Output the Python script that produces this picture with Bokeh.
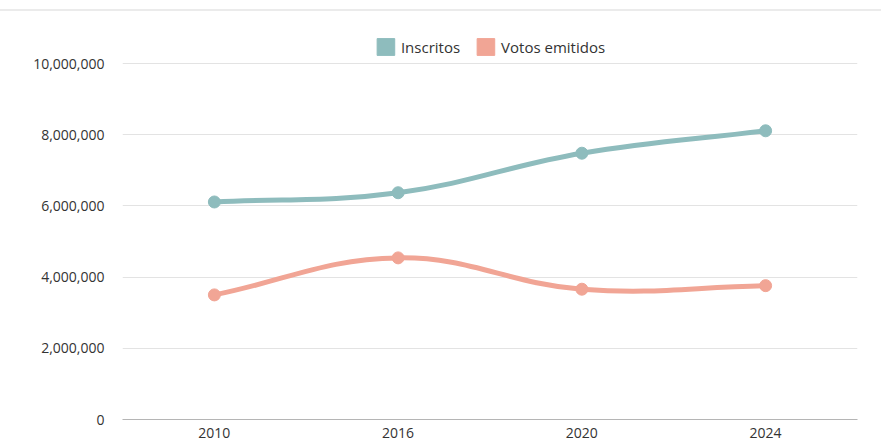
import math
from bokeh.plotting import figure
from bokeh.models import (Range1d, FixedTicker, Legend, LegendItem,
                          NumeralTickFormatter)
from bokeh.embed import file_html
from bokeh.resources import INLINE

# ---- data ----
years = ["2010", "2016", "2020", "2024"]
inscritos = [6110000, 6370000, 7480000, 8110000]
votos = [3500000, 4540000, 3660000, 3760000]
y_ticks = [0, 2000000, 4000000, 6000000, 8000000, 10000000]
series_names = ["Inscritos", "Votos emitidos"]

# ---- style ----
TEAL = "#8ebcbd"
SALMON = "#f1a595"
TEXT = "#333333"
FONT = "Open Sans"

W, H = 881, 432
B_LEFT, B_RIGHT, B_TOP, B_BOTTOM = 122, 24, 17, 24
frame_h = H - B_TOP - B_BOTTOM
top_grid_px = 52  # pixel offset of the top gridline inside the figure
frame_bottom = H - B_BOTTOM
px_per_unit = (frame_bottom - top_grid_px) / y_ticks[-1]
YMAX = frame_h / px_per_unit

xs = list(range(len(years)))

p = figure(width=W, height=H, output_backend="svg", toolbar_location=None,
           x_range=Range1d(-0.5, len(years) - 0.5), y_range=Range1d(0, YMAX),
           min_border_left=B_LEFT, min_border_right=B_RIGHT,
           min_border_top=B_TOP, min_border_bottom=B_BOTTOM)
p.outline_line_color = None
p.background_fill_color = "white"
p.border_fill_color = "white"
# thin light rule above the chart
p.styles = {"margin-top": "9px", "border-top": "2px solid #ebebeb"}

# axes
p.xaxis.ticker = FixedTicker(ticks=xs)
p.xaxis.major_label_overrides = {i: y for i, y in enumerate(years)}
p.xaxis.axis_line_color = "#b5b5b5"
p.xaxis.major_tick_line_color = None
p.xaxis.minor_tick_line_color = None
p.xaxis.major_label_standoff = 2
p.xaxis.major_label_text_font = FONT
p.xaxis.major_label_text_font_size = "14px"
p.xaxis.major_label_text_color = TEXT

p.yaxis.ticker = FixedTicker(ticks=y_ticks)
p.yaxis.formatter = NumeralTickFormatter(format="0,0")
p.yaxis.axis_line_color = None
p.yaxis.major_tick_line_color = None
p.yaxis.minor_tick_line_color = None
p.yaxis.major_label_standoff = 12
p.yaxis.major_label_text_font = FONT
p.yaxis.major_label_text_font_size = "14px"
p.yaxis.major_label_text_color = TEXT

p.xgrid.grid_line_color = None
p.ygrid.grid_line_color = "#e3e3e3"
p.ygrid.grid_line_width = 1


def spline_segments(xv, yv, sx, sy, t=0.4):
    """Chart.js-like cubic spline control points (computed in pixel space)."""
    P = [(a * sx, b * sy) for a, b in zip(xv, yv)]
    n = len(P)
    prev_c, next_c = [], []
    for i in range(n):
        p0 = P[i - 1] if i > 0 else P[i]
        p1 = P[i]
        p2 = P[i + 1] if i < n - 1 else P[i]
        d01 = math.hypot(p1[0] - p0[0], p1[1] - p0[1])
        d12 = math.hypot(p2[0] - p1[0], p2[1] - p1[1])
        s01 = d01 / (d01 + d12)
        s12 = d12 / (d01 + d12)
        fa, fb = t * s01, t * s12
        prev_c.append((p1[0] - fa * (p2[0] - p0[0]), p1[1] - fa * (p2[1] - p0[1])))
        next_c.append((p1[0] + fb * (p2[0] - p0[0]), p1[1] + fb * (p2[1] - p0[1])))
    seg = dict(x0=[], y0=[], x1=[], y1=[], cx0=[], cy0=[], cx1=[], cy1=[])
    for i in range(n - 1):
        seg["x0"].append(xv[i]); seg["y0"].append(yv[i])
        seg["x1"].append(xv[i + 1]); seg["y1"].append(yv[i + 1])
        seg["cx0"].append(next_c[i][0] / sx); seg["cy0"].append(next_c[i][1] / sy)
        seg["cx1"].append(prev_c[i + 1][0] / sx); seg["cy1"].append(prev_c[i + 1][1] / sy)
    return seg


frame_w = W - B_LEFT - B_RIGHT
sx = frame_w / len(years)
sy = px_per_unit

legend_items = []
nan = float("nan")
for name, vals, col in zip(series_names, [inscritos, votos], [TEAL, SALMON]):
    seg = spline_segments(xs, vals, sx, sy)
    p.bezier(line_color=col, line_width=5, line_cap="round", **seg)
    p.scatter(xs, vals, size=12, fill_color=col, line_color=col)
    q = p.quad(left=[nan], right=[nan], top=[nan], bottom=[nan],
               fill_color=col, line_color=col)
    legend_items.append(LegendItem(label=name, renderers=[q]))

legend = Legend(items=legend_items, orientation="horizontal", location="top_center",
                glyph_width=22, glyph_height=21, label_height=21,
                label_text_font=FONT, label_text_font_size="15px",
                label_text_color=TEXT, label_standoff=5, spacing=14,
                padding=0, margin=8, border_line_color=None,
                background_fill_alpha=0)
p.add_layout(legend)

open("out.html", "w").write(file_html(p, INLINE))
